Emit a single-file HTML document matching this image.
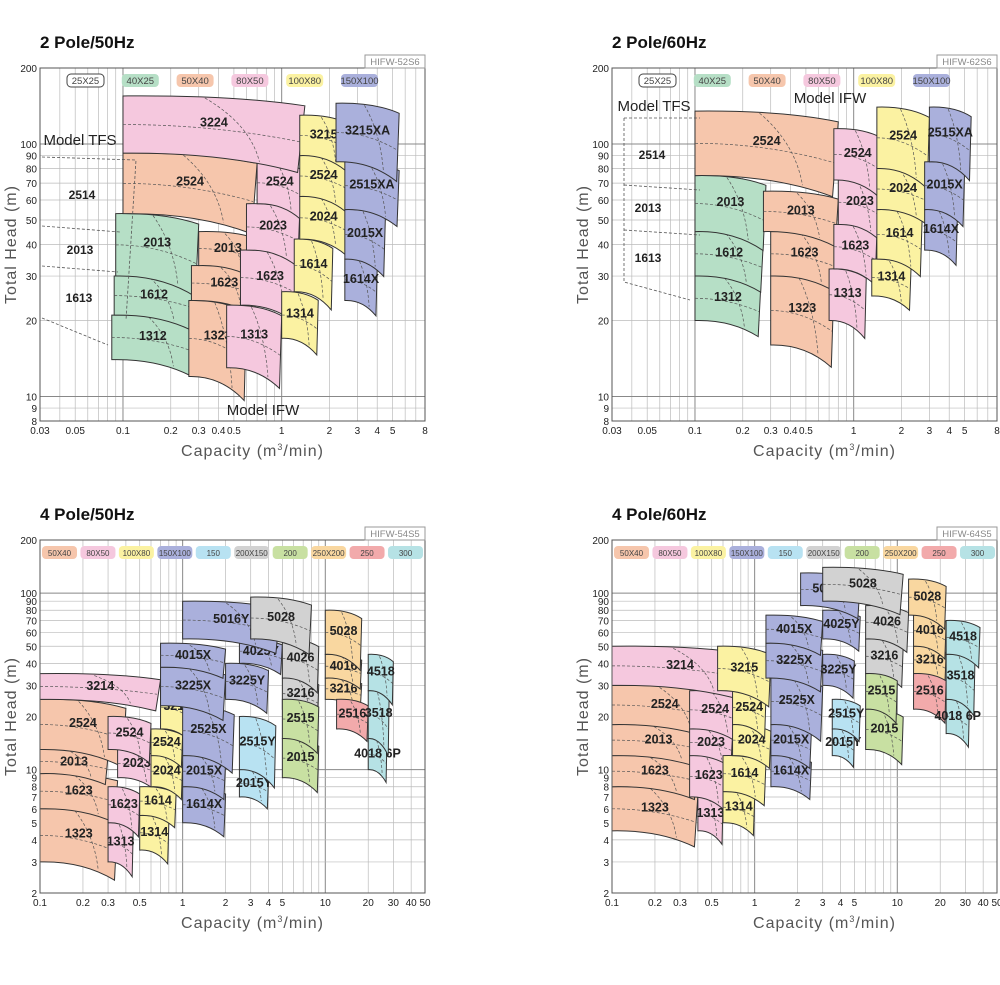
<!DOCTYPE html>
<html><head><meta charset="utf-8">
<style>
body{margin:0;background:#fff;font-family:"Liberation Sans",sans-serif}
svg text{font-family:"Liberation Sans",sans-serif}
</style></head>
<body>
<svg id="root" width="1000" height="980" viewBox="0 0 1000 980" xmlns="http://www.w3.org/2000/svg"></svg>
<script>
// ---- chart data (capacity m3/min, head m) ----
const p250Names=["1312","1612","2013","1323","1623","2013","2524","1313","1623","2023","2524","3224","1314","1614","2024","2524","3215","1614X","2015X","2515XA","3215XA"];
const p250Series=["g","g","g","s","s","s","s","p","p","p","p","p","y","y","y","y","y","b","b","b","b"];
const p250QLo=[0.085,0.088,0.09,0.26,0.27,0.3,0.1,0.45,0.55,0.6,0.7,0.1,1.0,1.2,1.3,1.3,1.3,2.5,2.5,2.5,2.2];
const p250QHi=[0.28,0.28,0.3,0.6,0.7,0.7,0.7,1.0,1.3,1.3,1.35,1.4,1.7,2.1,2.6,2.6,2.6,4.0,4.5,5.5,5.5];
const p250HLo=[14,21,30,12,24,33,53,13,23,38,58,92,17,26,42,62,90,24,35,55,85];
const p250HHi=[21,30,53,24,33,45,92,23,38,58,85,155,26,42,62,90,130,35,55,85,145];

const p260Names=["1312","1612","2013","1323","1623","2013","2524","1313","1623","2023","2524","1314","1614","2024","2524","1614X","2015X","2515XA"];
const p260Series=["g","g","g","s","s","s","s","p","p","p","p","y","y","y","y","b","b","b"];
const p260QLo=[0.1,0.1,0.1,0.3,0.3,0.27,0.1,0.7,0.75,0.8,0.75,1.3,1.4,1.4,1.4,2.8,2.8,3.0];
const p260QHi=[0.26,0.27,0.28,0.75,0.8,0.8,0.8,1.2,1.4,1.5,1.5,2.3,2.7,3.0,3.0,4.5,5.0,5.5];
const p260HLo=[20,30,45,16,30,45,75,20,32,48,72,25,35,55,80,38,55,85];
const p260HHi=[30,45,75,30,45,65,135,32,48,72,115,35,55,80,140,55,85,140];

const p450Names=["1323","1623","2013","2524","1313","1623","2023","2524","3214","1314","1614","2024","2524","3215","1614X","2015X","2525X","3225X","4015X","3225Y","4025Y","5016Y","2015Y","2515Y","3216","4026","5028","2015","2515","3216","4016","5028","2516","4018 6P","3518","4518"];
const p450Series=["s","s","s","s","p","p","p","p","p","y","y","y","y","y","b","b","b","b","b","b","b","b","c","c","k","k","k","n","n","o","o","o","r","t","t","t"];
const p450QLo=[0.1,0.1,0.1,0.1,0.3,0.3,0.35,0.3,0.1,0.5,0.5,0.6,0.6,0.7,1.0,1.0,1.0,0.7,0.7,2.0,2.5,1.0,2.5,2.5,5,5,3,5,5,10,10,10,12,20,20,20];
const p450QHi=[0.35,0.35,0.3,0.4,0.45,0.5,0.65,0.6,0.7,0.8,0.9,1.0,1.0,1.2,2.0,2.0,2.3,2.0,2.0,4.0,5.0,4.8,4.0,4.5,9,9,8,9,9,18,18,18,20,27,28,30];
const p450HLo=[3,6,9.5,13,3,5,9,13,25,3.5,5.5,8,12,17,5,8,12,23,38,25,40,55,7,10,22,33,55,9,15,25,33,45,17,10,15,28];
const p450HHi=[6,9.5,13,25,5,8,13,20,35,5.5,8,12,17,30,8,12,23,38,52,40,55,90,10,20,33,55,95,15,25,33,45,80,25,15,28,45];

const p460Names=["1323","1623","2013","2524","1313","1623","2023","2524","3214","1314","1614","2024","2524","3215","1614X","2015X","2525X","3225X","4015X","3225Y","4025Y","5016Y","2015Y","2515Y","3216","4026","5028","2015","2515","3216","4016","5028","2516","4018 6P","3518","4518"];
const p460Series=["s","s","s","s","p","p","p","p","p","y","y","y","y","y","b","b","b","b","b","b","b","b","c","c","k","k","k","n","n","o","o","o","r","t","t","t"];
const p460QLo=[0.1,0.1,0.1,0.1,0.4,0.35,0.35,0.35,0.1,0.6,0.6,0.7,0.7,0.55,1.3,1.3,1.3,1.2,1.2,3,3,2.1,3.5,3.5,6,6,3,6,6,13,13,12,13,22,22,22];
const p460QHi=[0.4,0.4,0.45,0.55,0.6,0.65,0.7,0.8,0.9,1.0,1.2,1.3,1.2,1.3,2.5,2.5,3,3,3,5,5.5,5.5,5,5.5,11,12,11,11,10,22,22,22,22,32,35,38];
const p460HLo=[4.5,8,12,18,4.5,7,12,17,30,5,7.5,12,18,28,8,12,18,33,52,30,55,85,12,17,35,55,90,13,22,35,50,75,22,16,25,45];
const p460HHi=[8,12,18,30,7,12,17,28,50,7.5,12,18,28,50,12,18,33,52,75,45,80,130,17,25,55,85,140,22,35,50,75,120,35,25,45,70];

const colors={w:"#ffffff",g:"#b6dfc6",s:"#f6c6ac",p:"#f5c8de",y:"#fbf2a2",b:"#aab0dc",c:"#b8e2f2",k:"#d2d2d2",n:"#c8e0a2",o:"#f9d7a0",r:"#f2aaab",t:"#b6e2e5"};
const legendTop=[["25X25","w"],["40X25","g"],["50X40","s"],["80X50","p"],["100X80","y"],["150X100","b"]];
const legendBot=[["50X40","s"],["80X50","p"],["100X80","y"],["150X100","b"],["150","c"],["200X150","k"],["200","n"],["250X200","o"],["250","r"],["300","t"]];
const xTicksTop=[0.03,0.05,0.1,0.2,0.3,0.4,0.5,1,2,3,4,5,8];
const yTicksTop=[8,9,10,20,30,40,50,60,70,80,90,100,200];
const xTicksBot=[0.1,0.2,0.3,0.5,1,2,3,4,5,10,20,30,40,50];
const yTicksBot=[2,3,4,5,6,7,8,9,10,20,30,40,50,60,70,80,90,100,200];

const NS="http://www.w3.org/2000/svg";
const root=document.getElementById('root');
function mk(tag,attrs,parent){const e=document.createElementNS(NS,tag);for(const k in attrs)e.setAttribute(k,attrs[k]);(parent||root).appendChild(e);return e;}

function drawChart(o){
  const g=mk('g',{});
  
  
  const L=o.x0,R=o.x0+385,T=o.y0,B=o.y0+o.h;
  const X=q=>L+(Math.log10(q)-Math.log10(o.qmin))/(Math.log10(o.qmax)-Math.log10(o.qmin))*(R-L);
  const Y=v=>B-(Math.log10(v)-Math.log10(o.hmin))/(Math.log10(o.hmax)-Math.log10(o.hmin))*(B-T);
  const t=mk('text',{x:L,y:T-20,'font-size':17,'font-weight':'bold',fill:'#111'},g);t.textContent=o.title;
  
  for(let d=-3;d<3;d++)for(let m=1;m<10;m++){const q=m*Math.pow(10,d);if(q<o.qmin-1e-9||q>o.qmax+1e-9)continue;
    mk('line',{x1:X(q),x2:X(q),y1:T,y2:B,stroke:m===1?'#888':'#bbb','stroke-width':m===1?1:0.7},g);}
  for(let d=-1;d<4;d++)for(let m=1;m<10;m++){const v=m*Math.pow(10,d);if(v<o.hmin-1e-9||v>o.hmax+1e-9)continue;
    mk('line',{x1:L,x2:R,y1:Y(v),y2:Y(v),stroke:m===1?'#888':'#bbb','stroke-width':m===1?1:0.7},g);}
  for(let i=0;i<o.names.length;i++){
    const x0=X(o.qLo[i]),x1=X(o.qHi[i]),yT=Y(o.hHi[i]),yB=Y(o.hLo[i]);
    const w=x1-x0,hh=yB-yT;
    const trY=yT+0.12*hh+3, brX=x1-0.04*w, brY=yB+0.25*hh+5;
    const d=`M${x0},${yT} Q${x0+0.6*w},${yT-1} ${x1},${trY} L${brX},${brY} Q${x0+0.55*w},${yB-1} ${x0},${yB} Z`;
    const p=mk('path',{d:d,fill:colors[o.series[i]],stroke:'#333','stroke-width':1},g);
    
    
    mk('path',{d:`M${x0},${yT+0.5*hh} Q${x0+0.5*w},${yT+0.5*hh} ${x1-0.03*w},${yT+0.8*hh}`,fill:'none',stroke:'#555','stroke-width':0.7,'stroke-dasharray':'3,2'},g);
    mk('path',{d:`M${x0+0.45*w},${yT+2} Q${x0+0.7*w},${yT+0.5*hh} ${x0+0.75*w},${yB+0.15*hh}`,fill:'none',stroke:'#555','stroke-width':0.7,'stroke-dasharray':'3,2'},g);
    const lb=mk('text',{x:x0+0.5*w,y:yT+0.45*hh+5,'font-size':12.5,'font-weight':'bold','text-anchor':'middle',fill:'#222'},g);
    lb.textContent=o.names[i];
    
  }
  mk('rect',{x:L,y:T,width:R-L,height:B-T,fill:'none',stroke:'#555','stroke-width':1},g);
  const n=o.legend.length,lw=o.legendW,span=(R-o.legendEnd)-(L+o.legendStart),gap=(span-n*lw)/(n-1);
  o.legend.forEach((e,k)=>{const lx=L+o.legendStart+k*(lw+gap);
    const r=mk('rect',{x:lx,y:T+6,width:lw,height:13,rx:4,fill:colors[e[1]],stroke:e[1]==='w'?'#444':'none'},g);
    
    const lt=mk('text',{x:lx+lw/2,y:T+16,'font-size':o.legendFont,'text-anchor':'middle',fill:'#444'},g);lt.textContent=e[0];});
  mk('rect',{x:R-60,y:T-13,width:60,height:13,fill:'#fff',stroke:'#999'},g);
  const ct=mk('text',{x:R-30,y:T-3,'font-size':9.5,'text-anchor':'middle',fill:'#888'},g);ct.textContent=o.code;
  o.xt.forEach(q=>{const tt=mk('text',{x:X(q),y:B+13,'font-size':10,'text-anchor':'middle',fill:'#222'},g);tt.textContent=q;});
  o.yt.forEach(v=>{const tt=mk('text',{x:L-3,y:Y(v)+4,'font-size':10,'text-anchor':'end',fill:'#222'},g);tt.textContent=v;});
  const xa=mk('text',{x:(L+R)/2+20,y:B+35,'font-size':16,'text-anchor':'middle',fill:'#555','letter-spacing':1},g);
  xa.innerHTML='Capacity (m<tspan dy="-6" font-size="9">3</tspan><tspan dy="6">/min)</tspan>';
  
  const ya=mk('text',{x:0,y:0,'font-size':16,'text-anchor':'middle',fill:'#555','letter-spacing':1,transform:`translate(${L-24},${(T+B)/2}) rotate(-90)`},g);
  ya.textContent='Total Head (m)';
  (o.extra||[]).forEach(e=>{const et=mk('text',{x:e[1],y:e[2],'font-size':e[3],fill:'#222','text-anchor':'middle','font-weight':e[3]>13?'normal':'bold'},g);et.textContent=e[0];});
  (o.dash||[]).forEach(dd=>mk('path',{d:dd,fill:'none',stroke:'#555','stroke-width':0.8,'stroke-dasharray':'3,2'},g));
}
drawChart({id:'chart-2pole-50hz',title:'2 Pole/50Hz',x0:40,y0:68,h:353,qmin:0.03,qmax:8,hmin:8,hmax:200,code:'HIFW-52S6',
 names:p250Names,series:p250Series,qLo:p250QLo,qHi:p250QHi,hLo:p250HLo,hHi:p250HHi,legend:legendTop,legendW:37,legendStart:27,legendEnd:47,legendFont:9.5,xt:xTicksTop,yt:yTicksTop,
 extra:[["Model TFS",80,145,15],["2514",82,199,12],["2013",80,254,12],["1613",79,302,12],["Model IFW",263,415,15]],
 dash:["M42,157 L136,160 L126,320","M42,226 L120,232","M42,266 L118,272","M42,318 L108,345"]});
drawChart({id:'chart-2pole-60hz',title:'2 Pole/60Hz',x0:612,y0:68,h:353,qmin:0.03,qmax:8,hmin:8,hmax:200,code:'HIFW-62S6',
 names:p260Names,series:p260Series,qLo:p260QLo,qHi:p260QHi,hLo:p260HLo,hHi:p260HHi,legend:legendTop,legendW:37,legendStart:27,legendEnd:47,legendFont:9.5,xt:xTicksTop,yt:yTicksTop,
 extra:[["Model TFS",654,111,15],["Model IFW",830,103,15],["2514",652,159,12],["2013",648,212,12],["1613",648,262,12]],
 dash:["M624,118 L700,118","M624,118 L624,282 L690,300","M624,185 L700,190","M624,230 L700,235"]});
drawChart({id:'chart-4pole-50hz',title:'4 Pole/50Hz',x0:40,y0:540,h:353,qmin:0.1,qmax:50,hmin:2,hmax:200,code:'HIFW-54S5',
 names:p450Names,series:p450Series,qLo:p450QLo,qHi:p450QHi,hLo:p450HLo,hHi:p450HHi,legend:legendBot,legendW:35,legendStart:2,legendEnd:2,legendFont:8,xt:xTicksBot,yt:yTicksBot});
drawChart({id:'chart-4pole-60hz',title:'4 Pole/60Hz',x0:612,y0:540,h:353,qmin:0.1,qmax:50,hmin:2,hmax:200,code:'HIFW-64S5',
 names:p460Names,series:p460Series,qLo:p460QLo,qHi:p460QHi,hLo:p460HLo,hHi:p460HHi,legend:legendBot,legendW:35,legendStart:2,legendEnd:2,legendFont:8,xt:xTicksBot,yt:yTicksBot});
</script>
</body></html>
